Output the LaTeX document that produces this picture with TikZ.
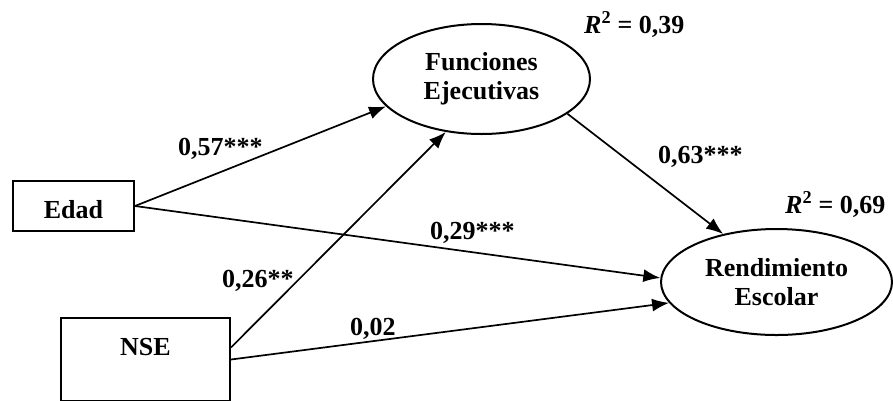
\documentclass[tikz,border=0pt]{standalone}
\usepackage{fontspec}
\setmainfont{Liberation Serif}
\usetikzlibrary{shapes.geometric,arrows.meta}
\begin{document}
\begin{tikzpicture}[x=1pt,y=-1pt,
  every node/.style={font=\fontsize{26}{29}\selectfont\bfseries},
  boxnode/.style={draw,line width=2pt,inner sep=0pt},
  ellnode/.style={draw,ellipse,line width=2pt,inner sep=0pt,align=center},
  lbl/.style={inner sep=0pt,anchor=base west},
  arr/.style={line width=1.7pt,-{Latex[length=17pt,width=13pt]}}]
\useasboundingbox (0,0) rectangle (893,400);
\node[boxnode,minimum width=121pt,minimum height=50pt,text height=24pt,text depth=0pt] (edad) at (73.5,206) {Edad};
\node[boxnode,minimum width=169pt,minimum height=83pt,text height=17pt,text depth=26pt] (nse) at (145.5,359.5) {NSE};
\node[ellnode,minimum width=217pt,minimum height=110pt] (fe) at (481.5,79) {Funciones\\Ejecutivas};
\node[ellnode,minimum width=231pt,minimum height=106pt] (re) at (776.5,282) {Rendimiento\\Escolar};
\draw[arr] (edad.east) -- (fe.196);
\draw[arr] (nse.8) -- (fe.236);
\draw[arr] (edad.east) -- (re.178.5);
\draw[arr] (nse.0.5) -- (re.191);
\draw[arr] (fe.338.5) -- (re.138);
\node[lbl] (l57) at (178,155) {0,57***};
\node[lbl] (l26) at (222,287) {0,26**};
\node[lbl] (l29) at (430,239) {0,29***};
\node[lbl] (l02) at (350,335) {0,02};
\node[lbl] (l63) at (658,163) {0,63***};
\node[lbl] (r39) at (584,33) {\textit{R}\textsuperscript{2} = 0,39};
\node[lbl] (r69) at (785,213) {\textit{R}\textsuperscript{2} = 0,69};
\end{tikzpicture}
\end{document}
